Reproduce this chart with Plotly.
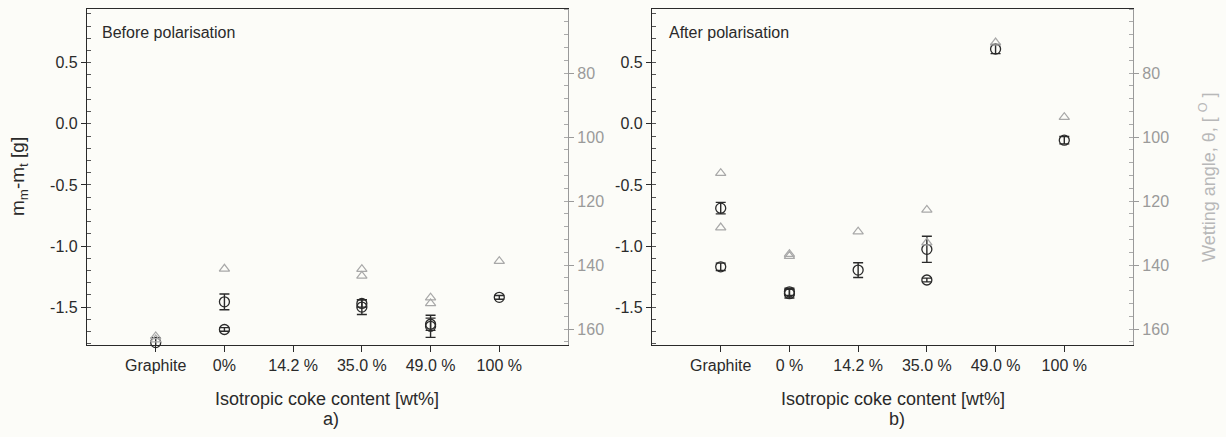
import plotly.graph_objects as go

W, H = 1226, 437

# ---------------- data ----------------
cats_a = ["Graphite", "0%", "14.2 %", "35.0 %", "49.0 %", "100 %"]
cats_b = ["Graphite", "0 %", "14.2 %", "35.0 %", "49.0 %", "100 %"]

# Before polarisation: mass change (circles) with error bars
before_mass_cat = ["Graphite", "0%", "0%", "35.0 %", "35.0 %", "49.0 %", "49.0 %", "100 %"]
before_mass = [-1.79, -1.457, -1.683, -1.470, -1.500, -1.640, -1.657, -1.420]
before_mass_err = [0.04, 0.064, 0.015, 0.030, 0.060, 0.050, 0.091, 0.015]
# Before polarisation: wetting angle (triangles)
before_angle_cat = ["Graphite", "Graphite", "0%", "35.0 %", "35.0 %", "49.0 %", "49.0 %", "100 %"]
before_angle = [162.3, 163.3, 141.2, 141.3, 143.4, 150.2, 152.0, 138.8]

# After polarisation
after_mass_cat = ["Graphite", "Graphite", "0 %", "0 %", "14.2 %", "35.0 %", "35.0 %", "49.0 %", "100 %"]
after_mass = [-0.690, -1.170, -1.375, -1.390, -1.197, -1.027, -1.278, 0.612, -0.134]
after_mass_err = [0.047, 0.030, 0.030, 0.035, 0.060, 0.107, 0.015, 0.037, 0.030]
after_angle_cat = ["Graphite", "Graphite", "0 %", "0 %", "14.2 %", "35.0 %", "35.0 %", "49.0 %", "100 %"]
after_angle = [111.3, 128.3, 136.6, 137.2, 129.6, 122.8, 133.0, 70.5, 93.8]

y_ticks = [-1.5, -1.0, -0.5, 0.0, 0.5]
y_ticktext = ["-1.5", "-1.0", "-0.5", "0.0", "0.5"]
angle_ticks = [80, 100, 120, 140, 160]

# ---------------- style ----------------
FONT = "Liberation Sans, Arial, sans-serif"
DARK = "#2a2a2a"
GREY = "#a8a8a8"
BG = "#fcfcf8"

def px_x(a, b):
    return [a / W, b / W]

ydom = [(H - 345) / H, (H - 9) / H]

fig = go.Figure()

def idx(cats, names):
    return [cats.index(n) for n in names]

def add_panel(cats, mcat, m, merr, acat, a, xa, ya, ya2):
    fig.add_trace(go.Scatter(
        x=idx(cats, acat), y=a, mode="markers", xaxis=xa, yaxis=ya2,
        marker=dict(symbol="triangle-up-open", size=9, color=GREY, line=dict(width=1.2)),
        cliponaxis=False, showlegend=False, hoverinfo="skip"))
    fig.add_trace(go.Scatter(
        x=idx(cats, mcat), y=m, mode="markers", xaxis=xa, yaxis=ya,
        marker=dict(symbol="circle-open", size=10, color=DARK, line=dict(width=1.3)),
        error_y=dict(type="data", array=merr, visible=True, color=DARK, thickness=1.4, width=5),
        cliponaxis=False, showlegend=False, hoverinfo="skip"))

add_panel(cats_a, before_mass_cat, before_mass, before_mass_err,
          before_angle_cat, before_angle, "x", "y", "y2")
add_panel(cats_b, after_mass_cat, after_mass, after_mass_err,
          after_angle_cat, after_angle, "x2", "y3", "y4")

tickfont = dict(family=FONT, size=16, color=DARK)
greyfont = dict(family=FONT, size=16, color="#9a9a9a")

def xaxis_def(dom, cats, anchor):
    return dict(domain=dom, anchor=anchor, range=[-1, 6], tickmode="array",
                tickvals=list(range(len(cats))), ticktext=cats,
                showline=True, linecolor=DARK, linewidth=1.3, mirror=True,
                ticks="outside", ticklen=6, tickcolor=DARK, tickwidth=1.2,
                tickfont=tickfont, showgrid=False, zeroline=False)

def yleft(anchor):
    return dict(domain=ydom, anchor=anchor, range=[-1.81, 0.94],
                tickmode="array", tickvals=y_ticks, ticktext=y_ticktext,
                showline=True, linecolor=DARK, linewidth=1.3,
                ticks="outside", ticklen=5, tickcolor=DARK, tickwidth=1.2,
                minor=dict(tickmode="linear", tick0=0, dtick=0.1, ticks="inside",
                           ticklen=4, tickcolor="#555", tickwidth=1),
                tickfont=tickfont, showgrid=False, zeroline=False)

def yright(anchor, overlay):
    return dict(domain=ydom, anchor=anchor, overlaying=overlay, side="right",
                range=[165, 60], tickmode="array", tickvals=angle_ticks,
                showline=True, linecolor="#9a9a9a", linewidth=1.3,
                ticks="outside", ticklen=5, tickcolor="#9a9a9a", tickwidth=1.2,
                minor=dict(tickmode="linear", tick0=0, dtick=4, ticks="inside",
                           ticklen=4, tickcolor="#aaa", tickwidth=1),
                tickfont=greyfont, showgrid=False, zeroline=False)

fig.update_layout(
    width=W, height=H,
    margin=dict(l=0, r=0, t=0, b=0),
    paper_bgcolor=BG, plot_bgcolor=BG,
    font=dict(family=FONT, color=DARK),
    xaxis=xaxis_def(px_x(87, 568), cats_a, "y"),
    xaxis2=xaxis_def(px_x(652, 1133), cats_b, "y3"),
    yaxis=yleft("x"),
    yaxis2=yright("x", "y"),
    yaxis3=yleft("x2"),
    yaxis4=yright("x2", "y3"),
)

def ann(text, x, y, size=17, color=DARK, angle=0, xanchor="center"):
    fig.add_annotation(text=text, x=x / W, y=(H - y) / H, xref="paper", yref="paper",
                       showarrow=False, textangle=angle, xanchor=xanchor, yanchor="middle",
                       font=dict(family=FONT, size=size, color=color))

ann("Before polarisation", 100, 33, size=16, xanchor="left")
ann("After polarisation", 667, 33, size=16, xanchor="left")
ann("Isotropic coke content [wt%]", 327, 399, size=18)
ann("a)", 331, 419, size=18)
ann("Isotropic coke content [wt%]", 893, 399, size=18)
ann("b)", 897, 419, size=18)
ann("m<sub>m</sub>-m<sub>t</sub> [g]", 19, 177, size=19, angle=-90)
ann("Wetting angle, θ, [ <sup>O</sup> ]", 1207, 177, size=18, color="#b8b8b8", angle=-90)

fig.write_html("out.html")
